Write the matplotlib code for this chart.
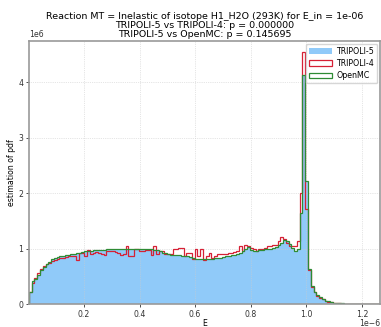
import numpy as np
import matplotlib
matplotlib.use("Agg")
import matplotlib.pyplot as plt

# energy range of the histogram (units of 1e-6)
e_min = 0.002
e_max = 1.265

# pdf estimates per bin (units of 1e6)
tripoli5 = [
    0.22, 0.42, 0.45, 0.52, 0.60, 0.66, 0.71, 0.75, 0.80, 0.82,
    0.84, 0.85, 0.86, 0.87, 0.88, 0.89, 0.90, 0.91, 0.92, 0.93,
    0.945, 0.955, 0.96, 0.965, 0.97, 0.975, 0.975, 0.98, 0.985, 0.985,
    0.99, 0.985, 0.995, 0.99, 0.985, 0.995, 0.99, 0.985, 0.995, 0.985,
    0.99, 0.995, 0.985, 0.99, 0.985, 0.98, 0.975, 0.945, 0.925, 0.915,
    0.895, 0.885, 0.885, 0.885, 0.875, 0.865, 0.865, 0.855, 0.845, 0.825,
    0.815, 0.805, 0.805, 0.805, 0.805, 0.81, 0.815, 0.825, 0.83, 0.835,
    0.845, 0.855, 0.865, 0.875, 0.885, 0.895, 0.925, 0.955, 0.995, 1.02,
    0.975, 0.945, 0.945, 0.965, 0.965, 0.985, 0.985, 0.995, 1.005, 1.025,
    1.055, 1.095, 1.145, 1.135, 1.075, 1.015, 0.955, 0.995, 1.64, 4.13,
    2.21, 0.62, 0.32, 0.22, 0.16, 0.12, 0.09, 0.065, 0.05, 0.037,
    0.028, 0.022, 0.016, 0.012, 0.009, 0.007, 0.005, 0.004, 0.003, 0.002,
    0.0015, 0.001, 0.0008, 0.0005, 0.0003, 0.0002, 0.0001,
]

tripoli4 = [
    0.22, 0.38, 0.47, 0.56, 0.63, 0.68, 0.72, 0.75, 0.77, 0.80,
    0.82, 0.83, 0.84, 0.85, 0.86, 0.87, 0.87, 0.80, 0.92, 0.93,
    0.87, 0.98, 0.91, 0.93, 0.94, 0.93, 0.91, 0.89, 0.96, 0.96,
    0.95, 0.94, 0.93, 0.89, 0.90, 1.05, 0.87, 0.87, 0.99, 0.99,
    0.95, 0.96, 0.97, 0.97, 0.89, 1.05, 0.90, 0.96, 0.96, 0.91,
    0.91, 0.90, 0.99, 0.99, 1.01, 1.01, 0.86, 0.93, 0.93, 0.82,
    1.00, 0.87, 1.00, 0.79, 0.86, 0.92, 0.84, 0.87, 0.90, 0.90,
    0.90, 0.91, 0.92, 0.93, 0.94, 0.95, 1.05, 0.95, 1.07, 1.04,
    1.02, 1.00, 0.95, 0.99, 0.99, 1.02, 1.04, 1.05, 1.06, 1.07,
    1.13, 1.21, 1.17, 1.10, 1.04, 1.04, 1.04, 1.13, 2.01, 4.55,
    1.71, 0.61, 0.31, 0.21, 0.155, 0.115, 0.085, 0.06, 0.047, 0.035,
    0.027, 0.021, 0.015, 0.011, 0.009, 0.006, 0.005, 0.004, 0.003, 0.002,
    0.0015, 0.001, 0.0008, 0.0005, 0.0003, 0.0002, 0.0001,
]

openmc = [
    0.22, 0.42, 0.46, 0.53, 0.61, 0.67, 0.72, 0.76, 0.81, 0.83,
    0.85, 0.86, 0.87, 0.88, 0.89, 0.90, 0.91, 0.92, 0.93, 0.935,
    0.95, 0.96, 0.965, 0.97, 0.975, 0.98, 0.98, 0.985, 0.99, 0.99,
    0.995, 0.99, 1.0, 0.995, 0.99, 1.0, 0.995, 0.99, 1.0, 0.99,
    0.995, 1.0, 0.99, 0.995, 0.99, 0.985, 0.98, 0.95, 0.93, 0.92,
    0.90, 0.89, 0.89, 0.89, 0.88, 0.87, 0.87, 0.86, 0.85, 0.83,
    0.82, 0.81, 0.81, 0.81, 0.81, 0.815, 0.82, 0.83, 0.835, 0.84,
    0.85, 0.86, 0.87, 0.88, 0.89, 0.90, 0.93, 0.96, 1.0, 1.03,
    0.98, 0.95, 0.95, 0.97, 0.97, 0.99, 0.99, 1.0, 1.01, 1.03,
    1.06, 1.10, 1.15, 1.14, 1.08, 1.02, 0.96, 1.00, 1.65, 4.14,
    2.22, 0.63, 0.32, 0.22, 0.16, 0.12, 0.09, 0.065, 0.05, 0.037,
    0.028, 0.022, 0.016, 0.012, 0.009, 0.007, 0.005, 0.004, 0.003, 0.002,
    0.0015, 0.001, 0.0008, 0.0005, 0.0003, 0.0002, 0.0001,
]

title = ("Reaction MT = Inelastic of isotope H1_H2O (293K) for E_in = 1e-06\n"
         "TRIPOLI-5 vs TRIPOLI-4: p = 0.000000\n"
         "TRIPOLI-5 vs OpenMC: p = 0.145695")

# bins in real units
nb = len(tripoli5)
edges = np.linspace(e_min, e_max, nb + 1) * 1e-6
centers = 0.5 * (edges[:-1] + edges[1:])
t5 = np.array(tripoli5) * 1e6
t4 = np.array(tripoli4) * 1e6
om = np.array(openmc) * 1e6

fig = plt.figure(figsize=(3.81, 3.27), dpi=100)
ax = fig.add_axes([0.076, 0.07, 0.921, 0.805])

ax.hist(centers, bins=edges, weights=t5, histtype="stepfilled",
        color="#90caf9", label="TRIPOLI-5")
ax.hist(centers, bins=edges, weights=t4, histtype="step",
        color="#d62035", linewidth=0.9, label="TRIPOLI-4")
ax.hist(centers, bins=edges, weights=om, histtype="step",
        color="#2e8b34", linewidth=0.9, label="OpenMC")

ax.set_xlim(edges[0], edges[-1])
ax.set_ylim(0, 4.75e6)
ax.set_xticks(np.array([0.2, 0.4, 0.6, 0.8, 1.0, 1.2]) * 1e-6)
ax.set_yticks(np.array([0, 1, 2, 3, 4]) * 1e6)

ax.grid(True, linestyle=":", linewidth=0.5, color="#cccccc")
for sp in ax.spines.values():
    sp.set_color("#999999")
    sp.set_linewidth(1.2)

ax.tick_params(labelsize=5.6, length=2.5, width=0.6, pad=1.5, colors="#333333")
ax.xaxis.OFFSETTEXTPAD = 0
ax.xaxis.get_offset_text().set_fontsize(5.6)
ax.yaxis.get_offset_text().set_fontsize(5.6)
ax.set_xlabel("E", fontsize=5.6, labelpad=0.5)
ax.set_ylabel("estimation of pdf", fontsize=5.6, labelpad=2)
ax.set_title(title, fontsize=6.8, pad=3, linespacing=1.0)

ax.legend(loc="upper right", fontsize=5.7, handlelength=2.9, handletextpad=0.5,
          labelspacing=0.4, borderpad=0.4, borderaxespad=0.35, framealpha=0.8)

fig.savefig("out.png", dpi=100)
